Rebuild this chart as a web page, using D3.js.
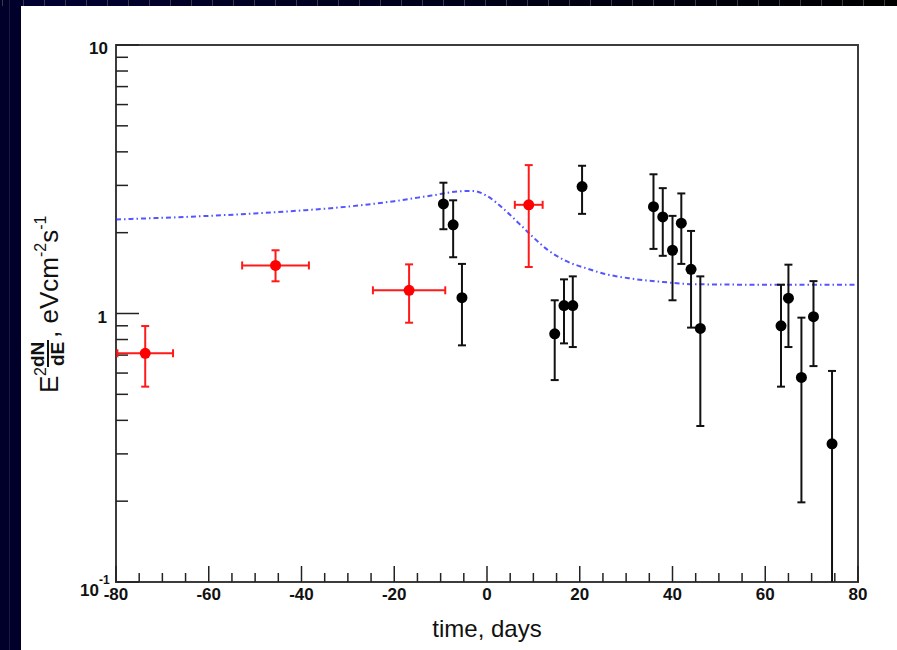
<!DOCTYPE html>
<html>
<head>
<meta charset="utf-8">
<title>E2dN/dE vs time</title>
<script src="https://d3js.org/d3.v7.min.js"></script>
<style>
  body { margin: 0; background: #fff; }
  svg { display: block; font-family: "Liberation Sans", Arial, sans-serif; }
</style>
</head>
<body>
<svg width="897" height="650"></svg>
<script>
// black points: time, flux, upper / lower ends of error bar
var blackT  = [-9.4, -7.3, -5.4, 14.6, 16.6, 18.5, 20.5, 35.9, 37.9, 40.0, 41.9, 44.0, 46.0, 63.4, 65.0, 67.8, 70.4, 74.4];
var blackV  = [2.56, 2.14, 1.145, 0.84, 1.07, 1.07, 2.97, 2.50, 2.29, 1.72, 2.17, 1.46, 0.88, 0.90, 1.14, 0.578, 0.973, 0.327];
var blackHi = [3.07, 2.64, 1.53, 1.12, 1.34, 1.375, 3.55, 3.30, 2.93, 2.31, 2.80, 2.03, 1.375, 1.28, 1.52, 0.965, 1.32, 0.611];
var blackLo = [2.06, 1.62, 0.761, 0.565, 0.774, 0.75, 2.35, 1.74, 1.64, 1.12, 1.53, 0.886, 0.381, 0.534, 0.75, 0.198, 0.637, 0.05];

// red points (with time error)
var redT    = [-73.7, -45.6, -16.8, 9.0];
var redTerr = [6.0, 7.2, 7.8, 3.0];
var redV    = [0.711, 1.51, 1.22, 2.54];
var redHi   = [0.898, 1.72, 1.524, 3.57];
var redLo   = [0.534, 1.318, 0.924, 1.49];

// blue dash-dot model curve
var curveT = [-80, -60, -40, -30, -20, -12, -6, -3, 0, 3.6, 7.2, 10, 13, 17, 21.6, 25, 31, 38, 45, 60, 80];
var curveV = [2.24, 2.31, 2.42, 2.50, 2.62, 2.75, 2.85, 2.86, 2.74, 2.45, 2.14, 1.92, 1.73, 1.57, 1.47, 1.41, 1.35, 1.31, 1.285, 1.28, 1.28];

var xTicks = [-80, -60, -40, -20, 0, 20, 40, 60, 80];

var svg = d3.select("svg");
var W = 897, H = 650;

// dark border band (left + top)
var grad = svg.append("defs").append("linearGradient").attr("id", "topband");
grad.append("stop").attr("offset", "0%").attr("stop-color", "#000033");
grad.append("stop").attr("offset", "100%").attr("stop-color", "#000000");
svg.append("rect").attr("x", 0).attr("y", 0).attr("width", W).attr("height", 6).attr("fill", "url(#topband)");
svg.append("rect").attr("x", 0).attr("y", 0).attr("width", 21).attr("height", H).attr("fill", "#00002a");
svg.append("line").attr("x1", 9.5).attr("x2", 9.5).attr("y1", 0).attr("y2", H)
    .attr("stroke", "#1a1a44").attr("stroke-width", 1);
svg.append("g").selectAll("line").data(d3.range(2, W, 21)).join("line")
    .attr("x1", d => d + 0.5).attr("x2", d => d + 0.5).attr("y1", 0).attr("y2", 6)
    .attr("stroke", "#3a3a4a").attr("stroke-width", 1);

var pL = 116, pR = 858, pT = 45, pB = 582;

var x = d3.scaleLinear().domain([-80, 80]).range([pL, pR]);
var y = d3.scaleLog().domain([0.1, 10]).range([pB, pT]);

svg.append("clipPath").attr("id", "plot").append("rect")
    .attr("x", pL).attr("y", pT).attr("width", pR - pL).attr("height", pB - pT);

// frame
svg.append("rect").attr("x", pL).attr("y", pT).attr("width", pR - pL).attr("height", pB - pT)
    .attr("fill", "none").attr("stroke", "#3c3c3c").attr("stroke-width", 2);

// x axis ticks
var xMinor = d3.range(-80, 81, 5);
svg.append("g").selectAll("line").data(xMinor).join("line")
    .attr("x1", d => x(d)).attr("x2", d => x(d))
    .attr("y1", pB).attr("y2", d => pB - (d % 20 === 0 ? 16 : 9))
    .attr("stroke", "#222").attr("stroke-width", 1.5);
svg.append("g").selectAll("text").data(xTicks).join("text")
    .attr("x", d => x(d)).attr("y", 600)
    .attr("text-anchor", "middle").attr("font-size", 17).attr("font-weight", "bold").attr("fill", "#111")
    .text(d => d);

// y axis ticks (log)
var yMinor = [];
[0.1, 1].forEach(function(dec) { for (var k = 1; k <= 9; k++) yMinor.push(dec * k); });
yMinor.push(10);
svg.append("g").selectAll("line").data(yMinor).join("line")
    .attr("x1", pL).attr("x2", d => pL + (Math.abs(Math.log10(d) - Math.round(Math.log10(d))) < 1e-9 ? 23 : 12))
    .attr("y1", d => y(d)).attr("y2", d => y(d))
    .attr("stroke", "#222").attr("stroke-width", 1.5);

var yl = svg.append("g").attr("font-size", 17).attr("font-weight", "bold").attr("fill", "#111");
yl.append("text").attr("x", 108).attr("y", y(10) + 9).attr("text-anchor", "end").text("10");
yl.append("text").attr("x", 107).attr("y", y(1) + 9).attr("text-anchor", "end").text("1");
var y01 = yl.append("text").attr("x", 80).attr("y", 596);
y01.append("tspan").text("10");
y01.append("tspan").attr("font-size", 12).attr("dy", -12).text("-1");

// axis titles
svg.append("text").attr("x", (pL + pR) / 2).attr("y", 637)
    .attr("text-anchor", "middle").attr("font-size", 24).attr("fill", "#111")
    .text("time, days");

var yt = svg.append("g").attr("transform", "translate(58,393) rotate(-90)").attr("fill", "#111");
yt.append("text").attr("x", 0).attr("y", 0).attr("font-size", 26).text("E");
yt.append("text").attr("x", 17).attr("y", -12).attr("font-size", 16).text("2");
yt.append("text").attr("x", 26).attr("y", -14).attr("font-size", 19).attr("font-weight", "bold").text("dN");
yt.append("line").attr("x1", 26).attr("x2", 53).attr("y1", -10).attr("y2", -10).attr("stroke", "#111").attr("stroke-width", 2);
yt.append("text").attr("x", 27).attr("y", 6).attr("font-size", 19).attr("font-weight", "bold").text("dE");
var yt2 = yt.append("text").attr("x", 55).attr("y", 0).attr("font-size", 26);
yt2.append("tspan").text(", eVcm");
yt2.append("tspan").attr("font-size", 16).attr("dy", -12).text("-2");
yt2.append("tspan").attr("dy", 12).text("s");
yt2.append("tspan").attr("font-size", 16).attr("dy", -12).text("-1");

var plot = svg.append("g").attr("clip-path", "url(#plot)");

// model curve
var line = d3.line().x(d => x(d[0])).y(d => y(d[1])).curve(d3.curveMonotoneX);
plot.append("path").datum(d3.zip(curveT, curveV))
    .attr("d", line).attr("fill", "none")
    .attr("stroke", "#2a2aff").attr("stroke-opacity", 0.8).attr("stroke-width", 2)
    .attr("stroke-dasharray", "5,3,1.5,3");

// black points
var blk = d3.range(blackT.length);
var cap = 4;
var gB = plot.append("g").attr("stroke", "#111").attr("stroke-width", 2);
gB.selectAll("line.v").data(blk).join("line").attr("class", "v")
    .attr("x1", i => x(blackT[i])).attr("x2", i => x(blackT[i]))
    .attr("y1", i => y(blackLo[i])).attr("y2", i => y(blackHi[i]));
gB.selectAll("line.t").data(blk).join("line").attr("class", "t")
    .attr("x1", i => x(blackT[i]) - cap).attr("x2", i => x(blackT[i]) + cap)
    .attr("y1", i => y(blackHi[i])).attr("y2", i => y(blackHi[i]));
gB.selectAll("line.b").data(blk).join("line").attr("class", "b")
    .attr("x1", i => x(blackT[i]) - cap).attr("x2", i => x(blackT[i]) + cap)
    .attr("y1", i => y(blackLo[i])).attr("y2", i => y(blackLo[i]));
plot.append("g").selectAll("circle").data(blk).join("circle")
    .attr("cx", i => x(blackT[i])).attr("cy", i => y(blackV[i])).attr("r", 5.5).attr("fill", "#000");

// red points
var red = d3.range(redT.length);
var gR = plot.append("g").attr("stroke", "#ff1a1a").attr("stroke-width", 2);
gR.selectAll("line.v").data(red).join("line").attr("class", "v")
    .attr("x1", i => x(redT[i])).attr("x2", i => x(redT[i]))
    .attr("y1", i => y(redLo[i])).attr("y2", i => y(redHi[i]));
gR.selectAll("line.h").data(red).join("line").attr("class", "h")
    .attr("x1", i => x(redT[i] - redTerr[i])).attr("x2", i => x(redT[i] + redTerr[i]))
    .attr("y1", i => y(redV[i])).attr("y2", i => y(redV[i]));
gR.selectAll("line.t").data(red).join("line").attr("class", "t")
    .attr("x1", i => x(redT[i]) - cap).attr("x2", i => x(redT[i]) + cap)
    .attr("y1", i => y(redHi[i])).attr("y2", i => y(redHi[i]));
gR.selectAll("line.b").data(red).join("line").attr("class", "b")
    .attr("x1", i => x(redT[i]) - cap).attr("x2", i => x(redT[i]) + cap)
    .attr("y1", i => y(redLo[i])).attr("y2", i => y(redLo[i]));
gR.selectAll("line.l").data(red).join("line").attr("class", "l")
    .attr("x1", i => x(redT[i] - redTerr[i])).attr("x2", i => x(redT[i] - redTerr[i]))
    .attr("y1", i => y(redV[i]) - cap).attr("y2", i => y(redV[i]) + cap);
gR.selectAll("line.r").data(red).join("line").attr("class", "r")
    .attr("x1", i => x(redT[i] + redTerr[i])).attr("x2", i => x(redT[i] + redTerr[i]))
    .attr("y1", i => y(redV[i]) - cap).attr("y2", i => y(redV[i]) + cap);
plot.append("g").selectAll("circle").data(red).join("circle")
    .attr("cx", i => x(redT[i])).attr("cy", i => y(redV[i])).attr("r", 5.5).attr("fill", "#ff0000");
</script>
</body>
</html>
